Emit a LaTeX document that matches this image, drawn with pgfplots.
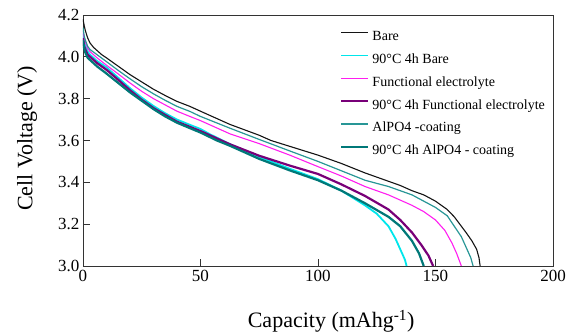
\documentclass[border=0pt]{standalone}
\usepackage{pgfplots}
\pgfplotsset{compat=1.18}
\usepackage{fontspec}
\setmainfont{Liberation Serif}
\definecolor{cBare}{RGB}{20,20,20}
\definecolor{cCyan}{RGB}{0,230,235}
\definecolor{cPink}{RGB}{255,30,240}
\definecolor{cPurple}{RGB}{120,0,120}
\definecolor{cTeal}{RGB}{40,150,150}
\definecolor{cDTeal}{RGB}{0,120,120}
\begin{document}
\begin{tikzpicture}
\path[use as bounding box] (-83pt,-69pt) rectangle (488pt,266pt);
\begin{axis}[
  at={(0pt,0pt)}, anchor=south west,
  scale only axis, width=470pt, height=251pt,
  xmin=0, xmax=200, ymin=3.0, ymax=4.2,
  xtick={0,50,100,150,200}, ytick={3.0,3.2,3.4,3.6,3.8,4.0,4.2},
  xtick pos=bottom, ytick pos=left,
  tick align=inside, major tick length=7pt,
  axis line style={line width=0.9pt, black!80},
  every tick/.style={line width=0.9pt, black!80},
  /pgf/number format/assume math mode=true,
  xticklabel style={font=\fontsize{17}{17}\selectfont, yshift=-1pt},
  yticklabel style={font=\fontsize{17}{17}\selectfont, /pgf/number format/fixed, /pgf/number format/fixed zerofill, /pgf/number format/precision=1},
  xlabel={Capacity (mAhg\textsuperscript{-1})},
  ylabel={Cell Voltage (V)},
  xlabel style={font=\fontsize{22}{22}\selectfont, at={(axis description cs:0.528,-0.247)}, anchor=base},
  ylabel style={font=\fontsize{22}{22}\selectfont, at={(axis description cs:-0.119,0.508)}, anchor=center},
  legend cell align=left,
  legend style={at={(axis description cs:0.547,0.938)}, anchor=north west, draw=none, fill=none, inner sep=0pt,
    font=\fontsize{14}{14}\selectfont, row sep=9.8pt, column sep=3pt,
    nodes={inner sep=0pt, text height=10pt, text depth=3pt}},
  legend image code/.code={\draw[#1] (0pt,4.5pt) -- (27pt,4.5pt);},
]
\addplot[cBare, line width=1.1pt] coordinates {
(0,4.18) (0.5,4.15) (1,4.125) (2,4.09) (3,4.066) (4.5,4.045) (6,4.03) (8,4.01) (10,3.995) (15,3.955) (20,3.915) (25,3.88) (30,3.845) (35,3.815) (40,3.787) (45.5,3.763) (50,3.74) (62.5,3.677) (75,3.625) (80,3.60) (90,3.565) (100,3.53) (110,3.49) (120,3.445) (130,3.405) (135,3.385) (140,3.36) (145,3.34) (150,3.31) (155,3.27) (158,3.235) (161,3.19) (163,3.16) (165.5,3.12) (167.5,3.08) (168.5,3.04) (169,3.0)};
\addlegendentry{Bare}
\addplot[cCyan, line width=1.8pt] coordinates {
(0,4.11) (0.5,4.07) (1,4.05) (2,4.025) (3,4.01) (6,3.98) (10,3.95) (15,3.90) (20,3.85) (25,3.805) (30,3.765) (35,3.73) (40,3.70) (45.5,3.675) (50,3.655) (54,3.63) (62.5,3.583) (75,3.522) (88,3.465) (100,3.415) (110,3.36) (120,3.29) (125,3.25) (130,3.19) (133,3.13) (135,3.08) (137,3.03) (137.7,3.0)};
\addlegendentry{90°C 4h Bare}
\addplot[cPink, line width=1.1pt] coordinates {
(0,4.12) (0.5,4.09) (1,4.07) (2,4.04) (3,4.025) (6,3.995) (10,3.96) (15,3.918) (20,3.875) (25,3.835) (30,3.80) (35,3.77) (40,3.74) (45.5,3.715) (50,3.695) (62.5,3.632) (71,3.60) (75,3.585) (88,3.53) (100,3.475) (110,3.43) (120,3.38) (130,3.34) (140,3.29) (145,3.26) (150,3.22) (154,3.17) (157,3.11) (159,3.06) (161,3.0)};
\addlegendentry{Functional electrolyte}
\addplot[cPurple, line width=2.2pt] coordinates {
(0,4.09) (0.5,4.05) (1,4.035) (2,4.01) (3,4.0) (6,3.97) (10,3.938) (15,3.89) (20,3.84) (25,3.795) (30,3.755) (35,3.722) (40,3.69) (45.5,3.665) (50,3.645) (62.5,3.582) (75,3.527) (88,3.48) (100,3.44) (110,3.39) (120,3.335) (130,3.27) (135,3.22) (140,3.16) (144,3.10) (147,3.05) (149,3.0)};
\addlegendentry{90°C 4h Functional electrolyte}
\addplot[cTeal, line width=1.2pt] coordinates {
(0,4.14) (0.5,4.10) (1,4.08) (2,4.05) (3,4.035) (6,4.01) (10,3.977) (15,3.935) (20,3.895) (25,3.857) (30,3.823) (35,3.792) (40,3.763) (45.5,3.739) (50,3.715) (62.5,3.659) (75,3.605) (88,3.55) (100,3.50) (110,3.455) (120,3.41) (130,3.38) (140,3.34) (150,3.28) (155,3.24) (158,3.19) (161,3.14) (163,3.09) (165,3.04) (166,3.0)};
\addlegendentry{AlPO4 -coating}
\addplot[cDTeal, line width=2.2pt] coordinates {
(0,4.08) (0.5,4.04) (1,4.02) (2,3.995) (3,3.985) (6,3.954) (10,3.92) (15,3.875) (20,3.83) (25,3.79) (30,3.75) (35,3.715) (40,3.685) (45.5,3.659) (50,3.638) (57,3.60) (62.5,3.575) (75,3.512) (88,3.457) (100,3.41) (110,3.36) (120,3.30) (130,3.235) (135,3.19) (140,3.12) (143,3.06) (145,3.0)};
\addlegendentry{90°C 4h AlPO4 - coating}
\end{axis}
\end{tikzpicture}
\end{document}
